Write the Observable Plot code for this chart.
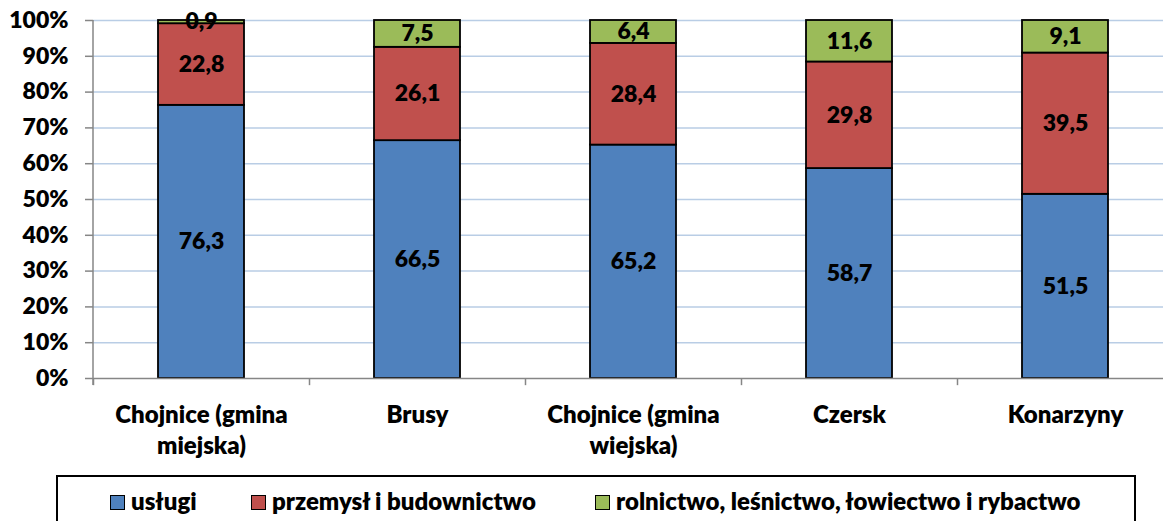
<!DOCTYPE html>
<html>
<head>
<meta charset="utf-8">
<script src="https://cdn.jsdelivr.net/npm/d3@7"></script>
<script src="https://cdn.jsdelivr.net/npm/@observablehq/plot@0.6"></script>
<style>
  html, body { margin: 0; padding: 0; background: #fff; }
  body { width: 1163px; height: 521px; overflow: hidden; position: relative; font-family: Lato, "Noto Sans", sans-serif; font-weight: 800; }
  #chart { position: absolute; left: 0; top: 0; }
  #legend { position: absolute; left: 56px; top: 475px; width: 1080px; height: 60px; border: 2px solid #000; box-sizing: border-box; }
  .item { position: absolute; top: 11px; font-size: 24px; color: #000; white-space: nowrap; line-height: 26px; }
  .sw { display: inline-block; width: 13px; height: 13px; border: 1.5px solid #000; vertical-align: 0px; margin-right: 6px; }
</style>
</head>
<body>
<div id="chart"></div>
<div id="legend"></div>
<script>
const categories = ["Chojnice (gmina miejska)", "Brusy", "Chojnice (gmina wiejska)", "Czersk", "Konarzyny"];
const categoryLabels = ["Chojnice (gmina\nmiejska)", "Brusy", "Chojnice (gmina\nwiejska)", "Czersk", "Konarzyny"];
const series = ["usługi", "przemysł i budownictwo", "rolnictwo, leśnictwo, łowiectwo i rybactwo"];
const uslugi = [76.3, 66.5, 65.2, 58.7, 51.5];
const przemysl = [22.8, 26.1, 28.4, 29.8, 39.5];
const rolnictwo = [0.9, 7.5, 6.4, 11.6, 9.1];
const colors = ["#4F81BD", "#C0504D", "#9BBB59"];
const yTicks = [0, 0.1, 0.2, 0.3, 0.4, 0.5, 0.6, 0.7, 0.8, 0.9, 1];

const values = [uslugi, przemysl, rolnictwo];
const data = [];
series.forEach((s, si) => categories.forEach((c, ci) => data.push({cat: c, series: s, value: values[si][ci]})));

const fmt = v => v.toFixed(1).replace(".", ",");
const labelOf = new Map(categories.map((c, i) => [c, categoryLabels[i]]));
const font = "Lato, 'Noto Sans', sans-serif";

const chart = Plot.plot({
  width: 1163,
  height: 470,
  marginTop: 20,
  marginBottom: 92,
  marginLeft: 93,
  marginRight: 0,
  style: {fontFamily: font, fontWeight: 800, background: "#fff", color: "#000", overflow: "visible"},
  x: {domain: categories, range: [93, 1173], paddingInner: 0.6, paddingOuter: 0.3, axis: null},
  y: {domain: [0, 1], axis: null},
  color: {domain: series, range: colors},
  marks: [
    Plot.ruleY(yTicks.filter(d => d > 0), {stroke: "#B9CDE5", strokeWidth: 1.5}),
    Plot.barY(data, Plot.stackY({x: "cat", y: "value", z: "series", fill: "series", offset: "normalize", stroke: "#000", strokeWidth: 1.8})),
    Plot.ruleY([0], {stroke: "#868686", strokeWidth: 1.5}),
    Plot.axisY({ticks: yTicks, label: null, tickFormat: d => Math.round(d * 100) + "%", tickSize: 8, tickPadding: 17, fontSize: 23, fontWeight: 800, stroke: "#868686", strokeWidth: 1.5, fill: "#000"}),
    Plot.ruleX(categories, {x: d => d, dx: -108, y1: 0, y2: -0.02, stroke: "#868686", strokeWidth: 1.5}),
    Plot.text(data, Plot.stackY({x: "cat", y: "value", z: "series", offset: "normalize", text: d => fmt(d.value), fontSize: 23, fontWeight: 800, fill: "#000"})),
    Plot.text(categories, {x: d => d, text: d => labelOf.get(d), frameAnchor: "bottom", lineAnchor: "top", dy: 22, lineHeight: 1.3, fontSize: 24, fontWeight: 800, fill: "#000"})
  ]
});
document.getElementById("chart").appendChild(chart);
const svg = d3.select(chart);
// vertical axis line
svg.append("line").attr("x1", 93).attr("x2", 93).attr("y1", 20).attr("y2", 385).attr("stroke", "#868686").attr("stroke-width", 1.5);

const legendItems = [
  {name: series[0], color: colors[0], left: 52},
  {name: series[1], color: colors[1], left: 193},
  {name: series[2], color: colors[2], left: 537}
];
const legend = d3.select("#legend");
legendItems.forEach(it => {
  const d = legend.append("div").attr("class", "item").style("left", it.left + "px");
  d.append("span").attr("class", "sw").style("background", it.color);
  d.append("span").text(it.name);
});
</script>
</body>
